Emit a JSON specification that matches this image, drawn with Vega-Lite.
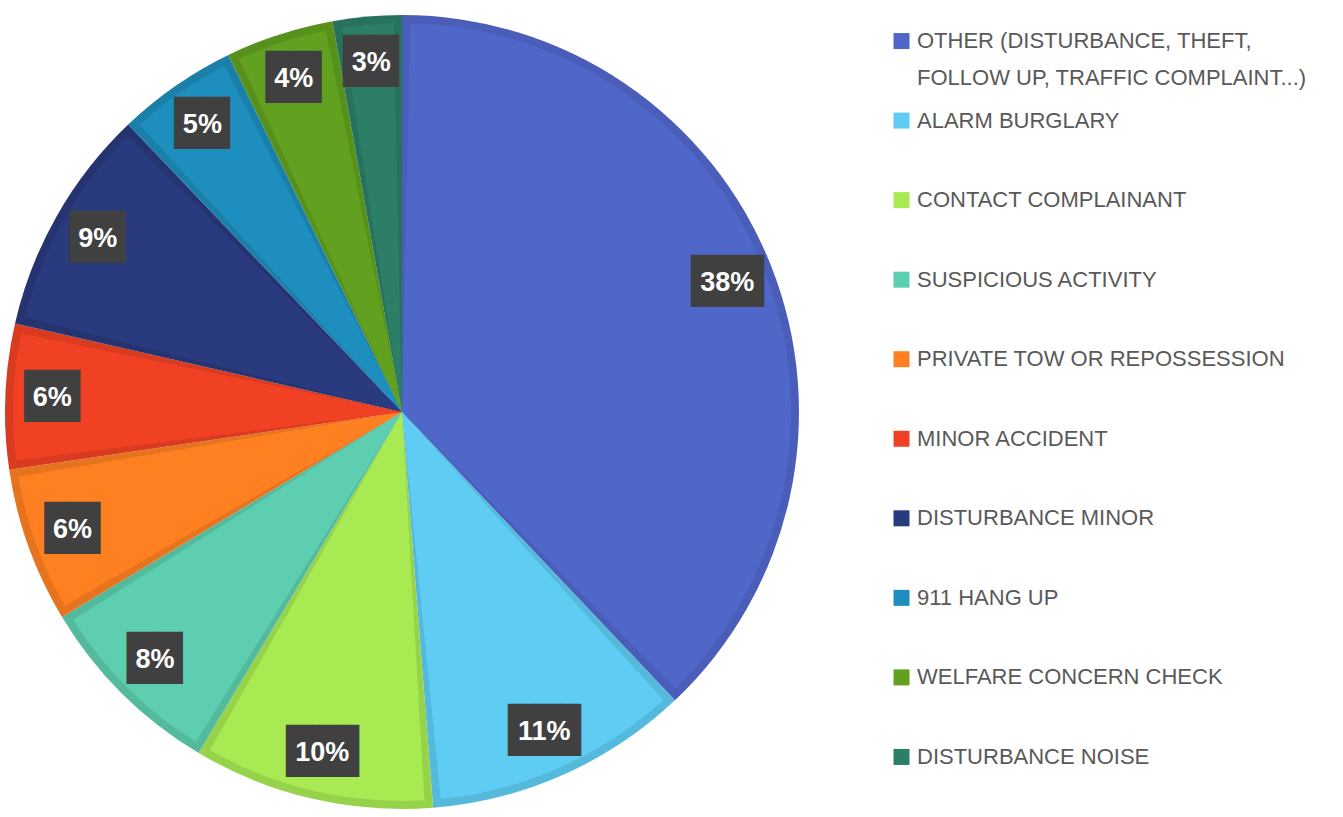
{
  "$schema": "https://vega.github.io/schema/vega-lite/v6.json",
  "padding": 0,
  "background": "white",
  "config": {"view": {"stroke": null}},
  "datasets": {
    "calls": [
      {"order": 1, "category": "OTHER (DISTURBANCE, THEFT,\nFOLLOW UP, TRAFFIC COMPLAINT...)", "share": 0.379},
      {"order": 2, "category": "ALARM BURGLARY", "share": 0.108},
      {"order": 3, "category": "CONTACT COMPLAINANT", "share": 0.098},
      {"order": 4, "category": "SUSPICIOUS ACTIVITY", "share": 0.078},
      {"order": 5, "category": "PRIVATE TOW OR REPOSSESSION", "share": 0.063},
      {"order": 6, "category": "MINOR ACCIDENT", "share": 0.059},
      {"order": 7, "category": "DISTURBANCE MINOR", "share": 0.093},
      {"order": 8, "category": "911 HANG UP", "share": 0.049},
      {"order": 9, "category": "WELFARE CONCERN CHECK", "share": 0.044},
      {"order": 10, "category": "DISTURBANCE NOISE", "share": 0.028}
    ]
  },
  "resolve": {"scale": {"color": "independent"}},
  "spacing": 87.5,
  "hconcat": [
    {
      "width": 804,
      "height": 824,
      "data": {"name": "calls"},
      "encoding": {
        "theta": {"field": "share", "type": "quantitative", "stack": true},
        "order": {"field": "order", "type": "quantitative", "sort": "ascending"}
      },
      "layer": [
        {
          "mark": {"type": "arc", "outerRadius": 397},
          "encoding": {
            "color": {
              "field": "category", "type": "nominal", "legend": null,
              "scale": {
                "domain": ["OTHER (DISTURBANCE, THEFT,\nFOLLOW UP, TRAFFIC COMPLAINT...)", "ALARM BURGLARY", "CONTACT COMPLAINANT", "SUSPICIOUS ACTIVITY", "PRIVATE TOW OR REPOSSESSION", "MINOR ACCIDENT", "DISTURBANCE MINOR", "911 HANG UP", "WELFARE CONCERN CHECK", "DISTURBANCE NOISE"],
                "range": ["#4A5DB9", "#55B9DC", "#97D34A", "#54BA9E", "#E6731E", "#D93B21", "#253470", "#1A80AA", "#58901C", "#27725C"]
              }
            }
          }
        },
        {
          "mark": {"type": "arc", "outerRadius": 389, "padAngle": 0.042},
          "encoding": {
            "color": {
              "field": "category", "type": "nominal", "legend": null,
              "scale": {
                "domain": ["OTHER (DISTURBANCE, THEFT,\nFOLLOW UP, TRAFFIC COMPLAINT...)", "ALARM BURGLARY", "CONTACT COMPLAINANT", "SUSPICIOUS ACTIVITY", "PRIVATE TOW OR REPOSSESSION", "MINOR ACCIDENT", "DISTURBANCE MINOR", "911 HANG UP", "WELFARE CONCERN CHECK", "DISTURBANCE NOISE"],
                "range": ["#4E67C8", "#5ECCF3", "#A7EA52", "#5DCEAF", "#FF8021", "#F14124", "#2A3A7E", "#1D8EBD", "#62A01F", "#2C7F66"]
              }
            }
          }
        },
        {
          "mark": {"type": "text", "radius": 350, "font": "DejaVu Sans Mono", "fontSize": 44, "align": "left", "baseline": "middle", "dx": -36, "color": "#404040"},
          "encoding": {"text": {"condition": {"test": "datum.share >= 0.095", "value": "██▊"}, "value": ""}}
        },
        {
          "mark": {"type": "text", "radius": 350, "font": "DejaVu Sans Mono", "fontSize": 44, "align": "left", "baseline": "middle", "dx": -28, "color": "#404040"},
          "encoding": {"text": {"condition": {"test": "datum.share < 0.095", "value": "██▏"}, "value": ""}}
        },
        {
          "mark": {"type": "text", "radius": 350, "font": "Liberation Sans", "fontSize": 27, "fontWeight": "bold", "align": "center", "baseline": "middle", "color": "white"},
          "encoding": {"text": {"field": "share", "type": "quantitative", "format": ".0%"}}
        }
      ],
      "resolve": {"scale": {"color": "independent"}}
    },
    {
      "width": 20,
      "height": 798,
      "data": {"name": "calls"},
      "encoding": {
        "y": {"field": "category", "type": "nominal", "sort": {"field": "order", "op": "min"}, "scale": {"type": "point", "padding": 0.516}, "axis": null}
      },
      "layer": [
        {
          "mark": {"type": "point", "shape": "square", "filled": true, "size": 256, "opacity": 1},
          "encoding": {
            "color": {
              "field": "category", "type": "nominal", "legend": null,
              "scale": {
                "domain": ["OTHER (DISTURBANCE, THEFT,\nFOLLOW UP, TRAFFIC COMPLAINT...)", "ALARM BURGLARY", "CONTACT COMPLAINANT", "SUSPICIOUS ACTIVITY", "PRIVATE TOW OR REPOSSESSION", "MINOR ACCIDENT", "DISTURBANCE MINOR", "911 HANG UP", "WELFARE CONCERN CHECK", "DISTURBANCE NOISE"],
                "range": ["#4E67C8", "#5ECCF3", "#A7EA52", "#5DCEAF", "#FF8021", "#F14124", "#2A3A7E", "#1D8EBD", "#62A01F", "#2C7F66"]
              }
            }
          }
        },
        {
          "mark": {"type": "text", "align": "left", "baseline": "alphabetic", "dx": 15.5, "dy": 7, "font": "Liberation Sans", "fontSize": 22, "lineHeight": 37, "lineBreak": "\n", "color": "#595959"},
          "encoding": {"text": {"field": "category", "type": "nominal"}}
        }
      ]
    }
  ]
}
